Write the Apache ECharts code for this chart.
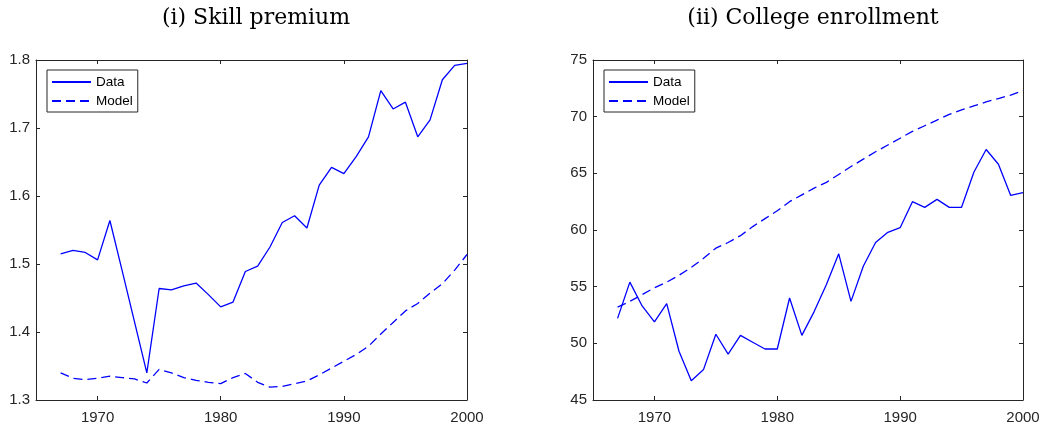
<!DOCTYPE html>
<html>
<head>
<meta charset="utf-8">
<script src="https://cdn.jsdelivr.net/npm/echarts@6/dist/echarts.min.js"></script>
<style>
html,body{margin:0;padding:0;background:#fff;}
#chart{width:1045px;height:429px;}
</style>
</head>
<body>
<div id="chart"></div>
<script>
const years = [1967,1968,1969,1970,1971,1972,1973,1974,1975,1976,1977,1978,1979,1980,1981,1982,1983,1984,1985,1986,1987,1988,1989,1990,1991,1992,1993,1994,1995,1996,1997,1998,1999,2000];
const skillData = [1.515,1.520,1.517,1.506,1.564,1.490,1.415,1.340,1.464,1.462,1.468,1.472,1.455,1.437,1.444,1.489,1.497,1.525,1.561,1.571,1.553,1.616,1.642,1.633,1.658,1.687,1.755,1.728,1.738,1.687,1.712,1.771,1.792,1.795];
const skillModel = [1.340,1.332,1.330,1.332,1.335,1.333,1.331,1.325,1.345,1.340,1.333,1.329,1.326,1.324,1.333,1.339,1.326,1.319,1.320,1.324,1.328,1.337,1.347,1.357,1.367,1.379,1.397,1.414,1.431,1.442,1.457,1.471,1.491,1.514];
const enrollData = [52.2,55.4,53.3,51.9,53.5,49.3,46.7,47.7,50.8,49.05,50.7,50.1,49.5,49.5,54.0,50.7,52.8,55.2,57.9,53.7,56.8,58.9,59.8,60.2,62.5,62.0,62.7,62.0,62.0,65.1,67.1,65.8,63.05,63.3];
const enrollModel = [53.2,53.7,54.3,54.9,55.4,56.0,56.7,57.5,58.4,58.9,59.5,60.3,61.0,61.7,62.5,63.1,63.7,64.2,64.9,65.6,66.25,66.9,67.5,68.1,68.7,69.2,69.7,70.2,70.6,70.95,71.3,71.6,71.9,72.3];
const xTicks = [1970,1980,1990,2000];
const skillTicks = [1.3,1.4,1.5,1.6,1.7,1.8];
const enrollTicks = [45,50,55,60,65,70,75];
const titles = ['(i) Skill premium','(ii) College enrollment'];
const seriesNames = ['Data','Model'];

const AX = '#262626';
const BLUE = '#0000ff';
const pair = (a, b) => a.map((v, i) => [years[i], b[i]]);

function xAxis(grid, pos, labels) {
  return {
    type: 'value', gridIndex: grid, position: pos, min: 1965, max: 2000,
    axisLine: {show: true, onZero: false, lineStyle: {color: AX, width: 1}},
    axisTick: {show: true, inside: true, length: 4, customValues: xTicks, lineStyle: {color: AX}},
    axisLabel: {show: labels, customValues: xTicks, color: AX, fontFamily: 'Liberation Sans', fontSize: 15, margin: 10,
      formatter: v => String(v)},
    splitLine: {show: false}
  };
}
function yAxis(grid, pos, labels, ticks, dec) {
  return {
    type: 'value', gridIndex: grid, position: pos, min: ticks[0], max: ticks[ticks.length - 1],
    axisLine: {show: true, onZero: false, lineStyle: {color: AX, width: 1}},
    axisTick: {show: true, inside: true, length: 4, customValues: ticks, lineStyle: {color: AX}},
    axisLabel: {show: labels, customValues: ticks, color: AX, fontFamily: 'Liberation Sans', fontSize: 15, margin: 6,
      formatter: v => dec ? v.toFixed(1) : String(Math.round(v))},
    splitLine: {show: false}
  };
}
function line(name, xi, yi, data, dashed) {
  return {
    name: name, type: 'line', xAxisIndex: xi, yAxisIndex: yi, data: data,
    showSymbol: false, symbol: 'none', animation: false,
    lineStyle: {color: BLUE, width: 1.3, type: dashed ? [9,5] : 'solid'},
    itemStyle: {color: BLUE}
  };
}
function legend(left) {
  return {
    data: seriesNames, orient: 'vertical', left: left, top: 70,
    itemWidth: 39, itemHeight: 14, itemGap: 5,
    padding: [5, 5, 4, 4], borderColor: AX, borderWidth: 1, borderRadius: 0,
    backgroundColor: '#fff',
    itemStyle: {opacity: 0},
    textStyle: {color: '#000', fontFamily: 'Liberation Sans', fontSize: 13.5},
    selectedMode: false
  };
}
const titleStyle = {fontFamily: 'DejaVu Serif', fontWeight: 'normal', fontSize: 22, color: '#000'};

const chart = echarts.init(document.getElementById('chart'), null, {renderer: 'canvas'});
chart.setOption({
  animation: false,
  backgroundColor: '#fff',
  title: [
    {text: titles[0], left: 251, top: 2, textAlign: 'center', textStyle: titleStyle},
    {text: titles[1], left: 808, top: 2, textAlign: 'center', textStyle: titleStyle}
  ],
  grid: [
    {left: 36, top: 60, width: 431, height: 340},
    {left: 593, top: 60, width: 430, height: 340}
  ],
  xAxis: [xAxis(0, 'bottom', true), xAxis(1, 'bottom', true), xAxis(0, 'top', false), xAxis(1, 'top', false)],
  yAxis: [
    yAxis(0, 'left', true, skillTicks, true),
    yAxis(1, 'left', true, enrollTicks, false),
    yAxis(0, 'right', false, skillTicks, true),
    yAxis(1, 'right', false, enrollTicks, false)
  ],
  legend: [legend(47), legend(604)],
  series: [
    line(seriesNames[0], 0, 0, pair(years, skillData), false),
    line(seriesNames[1], 0, 0, pair(years, skillModel), true),
    line(seriesNames[0], 1, 1, pair(years, enrollData), false),
    line(seriesNames[1], 1, 1, pair(years, enrollModel), true)
  ]
});
</script>
</body>
</html>
